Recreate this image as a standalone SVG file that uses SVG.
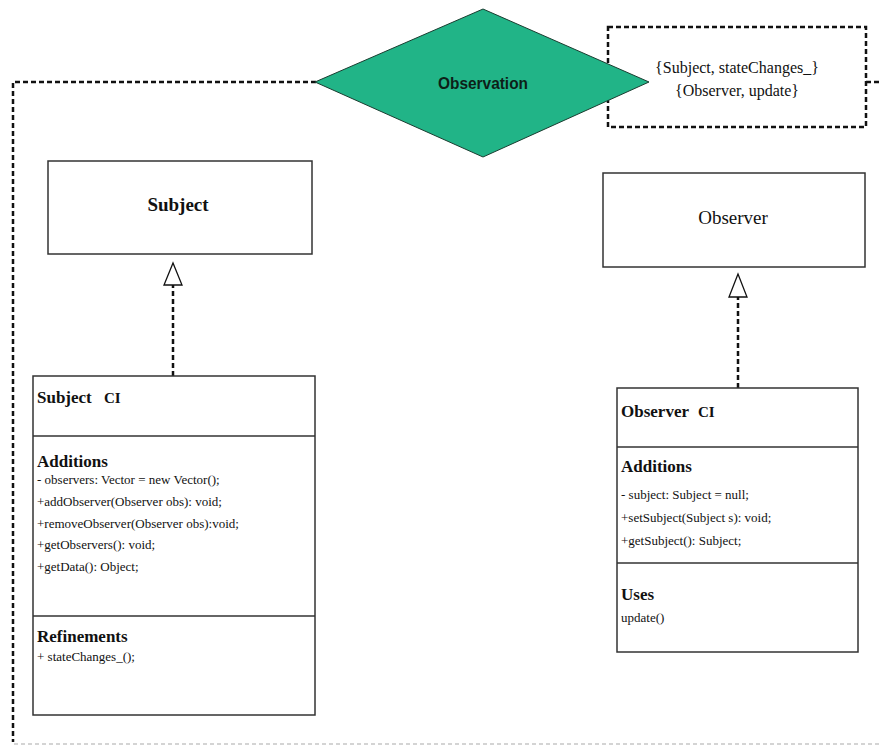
<svg xmlns="http://www.w3.org/2000/svg" width="882" height="746" viewBox="0 0 882 746">
  <style>
    .box { fill: #ffffff; stroke: #333333; stroke-width: 1.5; }
    .dash { fill: none; stroke: #111111; stroke-width: 2.5; stroke-dasharray: 5 3; }
    .faint { fill: none; stroke: #d4d4d4; stroke-width: 2; stroke-dasharray: 4 3; }
    .title { font-family: "Liberation Serif", "Times New Roman", serif; font-size: 19px; fill: #111; text-anchor: middle; }
    .head { font-family: "Liberation Serif", "Times New Roman", serif; font-weight: bold; fill: #111; }
    .member { font-family: "Liberation Serif", "Times New Roman", serif; font-size: 13px; fill: #111; }
    .note { font-family: "Liberation Serif", "Times New Roman", serif; font-size: 16px; fill: #111; text-anchor: middle; }
    .hollow { fill: #ffffff; stroke: #111111; stroke-width: 1.3; }
  </style>

  <rect width="882" height="746" fill="#ffffff"/>

  <g id="connectors">
    <!-- outer dashed frame from the Observation diamond -->
    <path class="dash" d="M 316 82 H 13 V 742"/>
    <path class="dash" d="M 866 82 H 882"/>
    <path class="faint" d="M 14 744 H 882"/>
    <!-- realization: Subject CI to Subject -->
    <path class="dash" d="M 173 376 V 285"/>
    <polygon class="hollow" points="173,263 164,285 182,285"/>
    <!-- realization: Observer CI to Observer -->
    <path class="dash" d="M 738 388 V 297"/>
    <polygon class="hollow" points="738,274 729,297 747,297"/>
  </g>

  <g id="bindings">
    <rect x="608" y="27" width="258" height="100" fill="#ffffff" class="dash"/>
    <text class="note" x="737" y="73">{Subject, stateChanges_}</text>
    <text class="note" x="737" y="96">{Observer, update}</text>
  </g>

  <g id="observation">
    <polygon points="315,82 483,9 649,82 483,157" fill="#21b487" stroke="#1a3d30" stroke-width="1"/>
    <text x="483" y="89" text-anchor="middle" font-family="Liberation Sans, Arial, sans-serif" font-weight="bold" font-size="17" fill="#0d1f18" textLength="90" lengthAdjust="spacingAndGlyphs">Observation</text>
  </g>

  <g id="subject">
    <rect class="box" x="48" y="161" width="264" height="93"/>
    <text class="title" x="178" y="211" font-weight="bold">Subject</text>
  </g>

  <g id="observer">
    <rect class="box" x="603" y="173" width="262" height="94"/>
    <text class="title" x="733" y="224">Observer</text>
  </g>

  <g id="subject-ci">
    <rect class="box" x="33" y="376" width="282" height="339"/>
    <line class="box" x1="33" y1="436" x2="315" y2="436"/>
    <line class="box" x1="33" y1="616" x2="315" y2="616"/>
    <text class="head" x="37" y="403" font-size="17">Subject</text>
    <text class="head" x="104" y="403" font-size="15">CI</text>
    <text class="head" x="37" y="467" font-size="17">Additions</text>
    <text class="member" x="37" y="484">- observers: Vector = new Vector();</text>
    <text class="member" x="37" y="506">+addObserver(Observer obs): void;</text>
    <text class="member" x="37" y="528">+removeObserver(Observer obs):void;</text>
    <text class="member" x="37" y="549">+getObservers(): void;</text>
    <text class="member" x="37" y="571">+getData(): Object;</text>
    <text class="head" x="37" y="642" font-size="17">Refinements</text>
    <text class="member" x="37" y="661">+ stateChanges_();</text>
  </g>

  <g id="observer-ci">
    <rect class="box" x="617" y="388" width="241" height="264"/>
    <line class="box" x1="617" y1="447" x2="858" y2="447"/>
    <line class="box" x1="617" y1="563" x2="858" y2="563"/>
    <text class="head" x="621" y="417" font-size="17">Observer</text>
    <text class="head" x="698" y="417" font-size="15">CI</text>
    <text class="head" x="621" y="472" font-size="17">Additions</text>
    <text class="member" x="621" y="499">- subject: Subject = null;</text>
    <text class="member" x="621" y="522">+setSubject(Subject s): void;</text>
    <text class="member" x="621" y="545">+getSubject(): Subject;</text>
    <text class="head" x="621" y="600" font-size="17">Uses</text>
    <text class="member" x="621" y="622">update()</text>
  </g>
</svg>
